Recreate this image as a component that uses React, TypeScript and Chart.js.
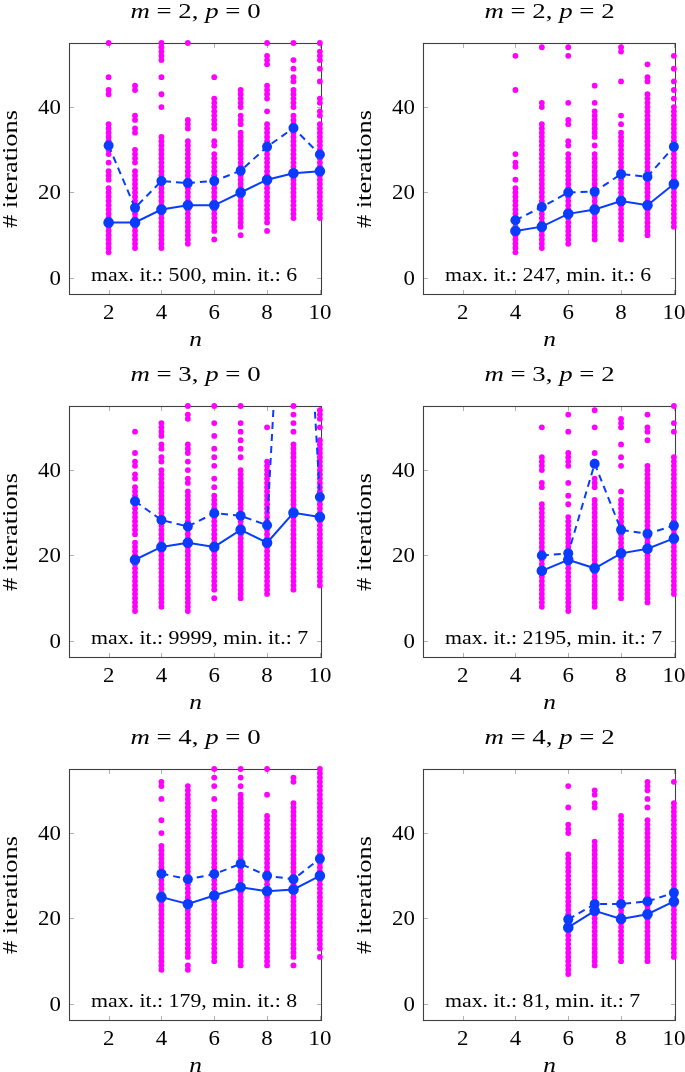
import React, { useEffect, useRef } from "react";
import { Chart, registerables } from "chart.js";

Chart.register(...registerables);

// ---------- axes ----------
const xTicks = [2, 4, 6, 8, 10];
const yTicks = [0, 20, 40];
const xMin = 0.5;
const xMax = 10.08;
const yMin = -4;
const yMax = 55;

// ---------- panel 1: m = 2, p = 0 ----------
const p1M = 2, p1P = 0, p1MaxIt = 500, p1MinIt = 6;
const p1N = [2, 3, 4, 5, 6, 7, 8, 9, 10];
const p1Median = [13, 13, 16, 17, 17, 20, 23, 24.5, 25];
const p1Mean = [31, 16.4, 22.7, 22.2, 22.7, 25.1, 30.7, 35.1, 28.9];
const p1Runs = [
  [6,7,8,9,10,11,12,13,14,15,16,17,18,19,20,21,23,24,25,27,29,30,31,32,33,34,35,36,43,44,47,55],
  [7,8,9,10,11,12,13,14,15,16,17,18,19,20,21,22,23,24,25,27,28,29,30,34,35,37,38,44,45],
  [7,8,9,10,11,12,13,14,15,16,17,18,19,20,21,22,23,24,25,26,27,28,29,30,31,32,33,40,43,47,51,52,53,54,55],
  [8,9,10,11,12,13,14,15,16,17,18,19,20,21,22,23,24,25,26,27,28,29,30,31,32,35,36,37,55],
  [9,11,12,13,14,15,16,17,18,19,20,21,22,23,24,25,26,27,28,29,31,32,35,36,37,38,39,40,41,42,47],
  [10,12,13,14,15,16,17,18,19,20,21,22,23,24,25,26,27,28,29,30,31,32,33,34,36,37,38,40,41,42,43,44],
  [11,13,14,15,16,17,18,19,20,21,22,23,24,25,26,27,28,29,30,31,32,33,34,35,36,39,42,43,44,45,50,51,52,55],
  [14,15,16,17,18,19,20,21,22,23,24,25,26,27,28,29,30,31,32,33,34,35,36,37,38,40,41,42,43,44,46,47,49,51,55],
  [14,15,16,17,18,19,20,21,22,23,24,25,26,27,28,29,30,31,32,33,34,35,36,38,39,41,42,46,49,51,52,53,55],
];

// ---------- panel 2: m = 2, p = 2 ----------
const p2M = 2, p2P = 2, p2MaxIt = 247, p2MinIt = 6;
const p2N = [4, 5, 6, 7, 8, 9, 10];
const p2Median = [11, 12, 15, 16, 18, 17, 22];
const p2Mean = [13.5, 16.6, 20, 20.2, 24.3, 23.7, 30.7];
const p2Runs = [
  [6,7,8,9,10,11,12,13,14,15,16,17,18,19,20,21,23,26,27,29,44,52],
  [7,8,9,10,11,12,13,14,15,16,17,18,19,20,21,22,23,24,25,26,27,28,29,30,31,32,33,34,35,36,40,41,54],
  [8,9,10,11,12,13,14,15,16,17,18,19,20,21,22,23,24,25,26,27,28,29,31,32,36,37,41,52,54],
  [9,10,11,12,13,14,15,16,17,18,19,20,21,22,23,24,25,26,27,28,29,31,33,34,35,36,37,38,39,41,45],
  [9,10,11,12,13,14,15,16,17,18,19,20,21,22,23,24,25,26,27,28,29,30,31,32,33,34,36,38,46,53,54],
  [10,11,12,13,14,15,16,17,18,19,20,21,22,23,24,25,26,27,28,29,30,31,32,33,34,35,36,37,38,39,40,41,42,43,46,47,50],
  [12,13,14,15,16,17,18,19,20,21,22,23,24,25,26,27,28,29,30,31,32,33,34,35,36,37,38,39,40,42,44,46,49,52],
];

// ---------- panel 3: m = 3, p = 0 ----------
const p3M = 3, p3P = 0, p3MaxIt = 9999, p3MinIt = 7;
const p3N = [3, 4, 5, 6, 7, 8, 9, 10];
const p3Median = [19, 22, 23, 22, 26, 23, 30, 29];
const p3Mean = [32.7, 28.3, 26.8, 29.9, 29.3, 27.1, 140, 33.7];
const p3Runs = [
  [7,8,9,10,11,12,13,14,15,16,17,18,19,20,21,22,23,25,26,27,28,29,30,31,32,33,34,35,36,38,39,41,42,44,49],
  [8,9,10,11,12,13,14,15,16,17,18,19,20,21,22,23,24,25,26,27,28,29,30,31,32,33,34,35,36,37,38,39,40,42,43,45,46,48,49,50,51],
  [7,8,9,10,11,12,13,14,15,16,17,18,19,20,21,22,23,24,25,26,27,28,29,30,31,32,33,34,35,37,38,40,42,44,45,46,52,53,55],
  [10,12,13,14,15,16,17,18,19,20,21,22,23,24,25,26,27,28,29,30,31,32,33,34,36,38,41,43,45,48,51,55],
  [10,11,12,13,14,15,16,17,18,19,20,21,22,23,24,25,26,27,28,29,30,31,32,33,34,35,36,37,38,39,40,43,45,47,49,51,55],
  [11,12,13,14,15,16,17,18,19,20,21,22,23,24,25,26,27,28,29,30,31,32,33,34,35,36,37,38,39,40,41,42,50],
  [12,13,14,15,16,17,18,19,20,21,22,23,24,25,26,27,28,29,30,31,32,33,34,35,36,37,38,39,40,41,42,43,44,45,46,49,51,53,55],
  [13,14,15,16,17,18,19,20,21,22,23,24,25,26,27,28,29,30,31,32,33,34,35,36,37,38,39,40,41,42,43,44,45,46,47,50,52,53,54],
];

// ---------- panel 4: m = 3, p = 2 ----------
const p4M = 3, p4P = 2, p4MaxIt = 2195, p4MinIt = 7;
const p4N = [5, 6, 7, 8, 9, 10];
const p4Median = [16.4, 19, 17, 20.5, 21.6, 24];
const p4Mean = [20, 20.5, 41.5, 26, 25.1, 27];
const p4Runs = [
  [8,9,10,11,12,13,14,15,16,17,18,19,20,21,22,23,24,25,26,27,28,29,30,31,32,36,37,40,41,42,43,50],
  [7,8,9,10,11,12,13,14,15,16,17,18,19,20,21,22,23,24,25,26,27,28,29,32,34,37,41,42,43,44,49,53],
  [8,9,10,11,12,13,14,15,16,17,18,19,20,21,22,23,24,25,26,27,28,29,30,31,32,33,36,37,38,42,44,50,54],
  [10,11,12,13,14,15,16,17,18,19,20,21,22,23,24,25,26,27,28,29,30,31,32,33,35,41,43,46,50,51,52],
  [9,10,11,12,13,14,15,16,17,18,19,20,21,22,23,24,25,26,27,28,29,30,31,32,33,34,35,36,37,38,39,40,41,47,49,50,53],
  [11,12,13,14,15,16,17,18,19,20,21,22,23,24,25,26,27,28,29,30,31,32,33,34,35,36,37,38,39,40,41,42,43,49,51,55],
];

// ---------- panel 5: m = 4, p = 0 ----------
const p5M = 4, p5P = 0, p5MaxIt = 179, p5MinIt = 8;
const p5N = [4, 5, 6, 7, 8, 9, 10];
const p5Median = [25, 23.4, 25.4, 27.3, 26.4, 26.8, 30];
const p5Mean = [30.5, 29.2, 30.4, 32.8, 30, 29.2, 34];
const p5Runs = [
  [8,9,10,11,12,13,14,15,16,17,18,19,20,21,22,23,24,25,26,27,28,29,30,31,32,33,34,35,36,37,40,43,48,51,52],
  [8,9,11,12,13,14,15,16,17,18,19,20,21,22,23,24,25,26,27,28,29,30,31,32,33,34,35,36,37,38,39,40,41,42,43,44,45,46,47,48,49,50,51],
  [10,11,12,13,14,15,16,17,18,19,20,21,22,23,24,25,26,27,28,29,30,31,32,33,34,35,36,37,38,39,40,41,42,43,44,45,48,51,53,55],
  [9,10,11,12,13,14,15,16,17,18,19,20,21,22,23,24,25,26,27,28,29,30,31,32,33,34,35,36,37,38,39,40,41,42,43,44,45,46,47,48,49,51,53,55],
  [9,10,11,12,13,14,15,16,17,18,19,20,21,22,23,24,25,26,27,28,29,30,31,32,33,34,35,36,37,38,39,40,41,42,43,44,49,55],
  [9,11,12,13,14,15,16,17,18,19,20,21,22,23,24,25,26,27,28,29,30,31,32,33,34,35,36,37,38,39,40,41,42,43,44,45,46,47,52,53],
  [11,13,14,15,16,17,18,19,20,21,22,23,24,25,26,27,28,29,30,31,32,33,34,35,36,37,38,39,40,41,42,43,44,45,46,47,48,49,50,51,52,53,54,55],
];

// ---------- panel 6: m = 4, p = 2 ----------
const p6M = 4, p6P = 2, p6MaxIt = 81, p6MinIt = 7;
const p6N = [6, 7, 8, 9, 10];
const p6Median = [17.9, 21.8, 19.9, 21, 24];
const p6Mean = [19.8, 23.4, 23.4, 24, 26];
const p6Runs = [
  [7,8,9,10,11,12,13,14,15,16,17,18,19,20,21,22,23,24,25,26,27,28,29,30,31,32,33,34,35,40,41,42,46,51],
  [9,10,11,12,13,14,15,16,17,18,19,20,21,22,23,24,25,26,27,28,29,30,31,32,33,34,35,36,37,38,46,47,49,50],
  [10,11,12,13,14,15,16,17,18,19,20,21,22,23,24,25,26,27,28,29,30,31,32,33,34,35,36,37,38,39,40,41,42,43,44],
  [10,11,12,13,14,15,16,17,18,19,20,21,22,23,24,25,26,27,28,29,30,31,32,33,34,35,36,37,38,39,40,41,42,43,46,48,50,51,52],
  [11,12,13,14,15,16,17,18,19,20,21,22,23,24,25,26,27,28,29,30,31,32,33,34,35,36,37,38,39,40,41,42,43,44,45,46,47,52],
];

// ---------- styles ----------
const MAGENTA = "#ff00ff";
const BLUE = "#0a3cff";
const FONT = '"Liberation Serif", "Times New Roman", serif';

type PanelData = {
  m: number; p: number; maxIt: number; minIt: number;
  n: number[]; median: number[]; mean: number[]; runs: number[][];
};

const panels: PanelData[] = [
  { m: p1M, p: p1P, maxIt: p1MaxIt, minIt: p1MinIt, n: p1N, median: p1Median, mean: p1Mean, runs: p1Runs },
  { m: p2M, p: p2P, maxIt: p2MaxIt, minIt: p2MinIt, n: p2N, median: p2Median, mean: p2Mean, runs: p2Runs },
  { m: p3M, p: p3P, maxIt: p3MaxIt, minIt: p3MinIt, n: p3N, median: p3Median, mean: p3Mean, runs: p3Runs },
  { m: p4M, p: p4P, maxIt: p4MaxIt, minIt: p4MinIt, n: p4N, median: p4Median, mean: p4Mean, runs: p4Runs },
  { m: p5M, p: p5P, maxIt: p5MaxIt, minIt: p5MinIt, n: p5N, median: p5Median, mean: p5Mean, runs: p5Runs },
  { m: p6M, p: p6P, maxIt: p6MaxIt, minIt: p6MinIt, n: p6N, median: p6Median, mean: p6Mean, runs: p6Runs },
];

// layout of canvases
const COLS = [
  { left: 0, width: 342, areaLeft: 69, areaRight: 322 },
  { left: 342, width: 343, areaLeft: 81, areaRight: 334 },
];
const ROWS = [
  { top: 0, height: 363 },
  { top: 363, height: 363 },
  { top: 726, height: 346 },
];
const AREA_TOP = 43;
const AREA_BOTTOM = 295;

function drawText(
  ctx: CanvasRenderingContext2D, s: string, x: number, y: number,
  size: number, italic: boolean, align: "left" | "center" | "right", sx: number
) {
  ctx.save();
  ctx.font = `${italic ? "italic " : ""}${size}px ${FONT}`;
  ctx.textBaseline = "middle";
  ctx.textAlign = "left";
  const w = ctx.measureText(s).width * sx;
  const x0 = align === "center" ? x - w / 2 : align === "right" ? x - w : x;
  ctx.translate(x0, y);
  ctx.scale(sx, 1);
  ctx.fillStyle = "#000";
  ctx.fillText(s, 0, 0);
  ctx.restore();
  return w;
}

function measure(ctx: CanvasRenderingContext2D, s: string, size: number, italic: boolean, sx: number) {
  ctx.save();
  ctx.font = `${italic ? "italic " : ""}${size}px ${FONT}`;
  const w = ctx.measureText(s).width * sx;
  ctx.restore();
  return w;
}

function makePlugin(pd: PanelData) {
  return {
    id: "pgfFrame",
    beforeDatasetsDraw(chart: any) {
      const { ctx, chartArea: a, scales } = chart;
      const xs = scales.x, ys = scales.y;
      ctx.save();
      ctx.strokeStyle = "#a8a8a8";
      ctx.lineWidth = 0.9;
      ctx.beginPath();
      xs.ticks.forEach((t: any) => {
        const px = Math.round(xs.getPixelForValue(t.value)) + 0.5;
        ctx.moveTo(px, a.top); ctx.lineTo(px, a.top + 5);
        ctx.moveTo(px, a.bottom); ctx.lineTo(px, a.bottom - 5);
      });
      ys.ticks.forEach((t: any) => {
        const py = Math.round(ys.getPixelForValue(t.value)) + 0.5;
        ctx.moveTo(a.left, py); ctx.lineTo(a.left + 5, py);
        ctx.moveTo(a.right, py); ctx.lineTo(a.right - 5, py);
      });
      ctx.stroke();
      ctx.strokeStyle = "#404040";
      ctx.lineWidth = 1.1;
      ctx.strokeRect(a.left + 0.5, a.top + 0.5, a.right - a.left - 1, a.bottom - a.top - 1);
      ctx.restore();
    },
    afterDraw(chart: any) {
      const { ctx, chartArea: a, scales } = chart;
      const xs = scales.x, ys = scales.y;
      const cx = (a.left + a.right) / 2;
      const cy = (a.top + a.bottom) / 2;
      // tick labels
      xs.ticks.forEach((t: any) => {
        drawText(ctx, String(t.value), xs.getPixelForValue(t.value), a.bottom + 18, 22, false, "center", 1.04);
      });
      ys.ticks.forEach((t: any) => {
        drawText(ctx, String(t.value), a.left - 8, ys.getPixelForValue(t.value) + 1, 22, false, "right", 1.04);
      });
      // x label
      drawText(ctx, "n", cx, a.bottom + 45, 22, true, "center", 1.15);
      // y label
      ctx.save();
      ctx.translate(a.left - 58, cy);
      ctx.rotate(-Math.PI / 2);
      drawText(ctx, "# iterations", 0, 0, 22, false, "center", 1.2);
      ctx.restore();
      // title
      const segs: [string, boolean][] = [
        ["m", true], [` = ${pd.m}, `, false], ["p", true], [` = ${pd.p}`, false],
      ];
      const tsx = 1.22;
      const total = segs.reduce((s, [t, it]) => s + measure(ctx, t, 22, it, tsx), 0);
      let tx = cx - total / 2;
      segs.forEach(([t, it]) => {
        tx += drawText(ctx, t, tx, a.top - 31, 22, it, "left", tsx);
      });
      // annotation
      drawText(
        ctx, `max. it.: ${pd.maxIt}, min. it.: ${pd.minIt}`,
        a.left + 22, ys.getPixelForValue(0) - 2, 18.5, false, "left", 1.18
      );
    },
  };
}

function Panel({ pd, col, row }: { pd: PanelData; col: number; row: number }) {
  const ref = useRef<HTMLCanvasElement>(null);
  const c = COLS[col];
  const r = ROWS[row];
  useEffect(() => {
    const scatterPts: { x: number; y: number }[] = [];
    pd.runs.forEach((vals, i) => vals.forEach((v) => scatterPts.push({ x: pd.n[i], y: v })));
    const medianPts = pd.n.map((x, i) => ({ x, y: pd.median[i] }));
    const meanPts = pd.n.map((x, i) => ({ x, y: pd.mean[i] }));
    const xAxisHeight = r.height - AREA_BOTTOM;
    const chart = new Chart(ref.current as HTMLCanvasElement, {
      type: "scatter",
      data: {
        datasets: [
          {
            label: "runs",
            data: scatterPts,
            backgroundColor: MAGENTA,
            borderColor: MAGENTA,
            borderWidth: 0,
            pointRadius: 2.9,
            pointHoverRadius: 2.9,
            clip: false as any,
            order: 3,
          },
          {
            label: "mean",
            data: meanPts,
            showLine: true,
            borderColor: BLUE,
            backgroundColor: BLUE,
            borderWidth: 2,
            borderDash: [7, 5],
            pointRadius: 5,
            pointBorderWidth: 0,
            pointHoverRadius: 5,
            clip: { left: 10, right: 10, top: 0, bottom: 10 } as any,
            order: 2,
          },
          {
            label: "median",
            data: medianPts,
            showLine: true,
            borderColor: BLUE,
            backgroundColor: BLUE,
            borderWidth: 2,
            pointRadius: 5.3,
            pointBorderWidth: 0,
            pointHoverRadius: 5.3,
            clip: { left: 10, right: 10, top: 0, bottom: 10 } as any,
            order: 1,
          },
        ],
      },
      options: {
        animation: false,
        responsive: false,
        maintainAspectRatio: false,
        devicePixelRatio: 1,
        events: [],
        layout: {
          padding: { top: AREA_TOP, left: 0, right: c.width - c.areaRight, bottom: 0 },
        },
        plugins: {
          legend: { display: false },
          title: { display: false },
          tooltip: { enabled: false },
        },
        scales: {
          x: {
            type: "linear",
            min: xMin,
            max: xMax,
            grid: { display: false },
            border: { display: false },
            ticks: { display: false },
            afterBuildTicks: (s: any) => { s.ticks = xTicks.map((v) => ({ value: v })); },
            afterFit: (s: any) => { s.height = xAxisHeight; },
          },
          y: {
            type: "linear",
            min: yMin,
            max: yMax,
            grid: { display: false },
            border: { display: false },
            ticks: { display: false },
            afterBuildTicks: (s: any) => { s.ticks = yTicks.map((v) => ({ value: v })); },
            afterFit: (s: any) => { s.width = c.areaLeft; },
          },
        },
      },
      plugins: [makePlugin(pd)],
    } as any);
    return () => chart.destroy();
  }, []);
  return (
    <canvas
      ref={ref}
      width={c.width}
      height={r.height}
      style={{ position: "absolute", left: c.left, top: r.top, width: c.width, height: r.height }}
    />
  );
}

export default function App() {
  return (
    <div style={{ position: "absolute", left: 0, top: 0, width: 685, height: 1072, background: "#fff", overflow: "hidden" }}>
      {panels.map((pd, i) => (
        <Panel key={i} pd={pd} col={i % 2} row={Math.floor(i / 2)} />
      ))}
    </div>
  );
}
